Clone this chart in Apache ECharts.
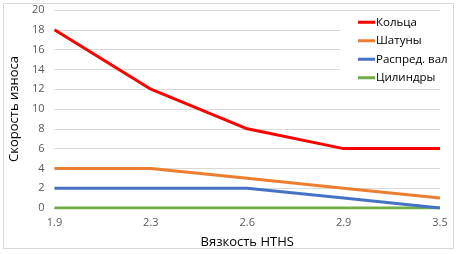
<!DOCTYPE html>
<html><head><meta charset="utf-8">
<script src="https://cdn.jsdelivr.net/npm/echarts@6/dist/echarts.min.js"></script>
<style>html,body{margin:0;padding:0;background:#fff}#c{width:457px;height:254px}</style>
</head><body><div id="c"></div>
<script>
const categories = ['1.9', '2.3', '2.6', '2.9', '3.5'];
const seriesNames = ['Кольца', 'Шатуны', 'Распред. вал', 'Цилиндры'];
const koltsa = [18, 12, 8, 6, 6];
const shatuny = [4, 4, 3, 2, 1];
const raspredVal = [2, 2, 2, 1, 0];
const tsilindry = [0, 0, 0, 0, 0];
const colors = ['#ff0000', '#ed7d31', '#4472c4', '#70ad47'];
const FONT = 'Open Sans';

const chart = echarts.init(document.getElementById('c'));
const dataSets = [koltsa, shatuny, raspredVal, tsilindry];
chart.setOption({
  animation: false,
  textStyle: { fontFamily: FONT },
  graphic: [{
    type: 'rect', shape: { x: 3.5, y: 3.5, width: 450, height: 245 },
    style: { fill: 'none', stroke: '#d9d9d9', lineWidth: 1 }, silent: true, z: -1
  }],
  grid: { left: 44, right: 17, top: 10, bottom: 38 },
  legend: {
    orient: 'vertical', left: 340, top: 13,
    padding: [2, 2, 2, 18],
    backgroundColor: '#fff',
    itemWidth: 17, itemHeight: 3, itemGap: 4,
    icon: 'rect',
    textStyle: { fontSize: 11.5, color: '#000', fontFamily: FONT, lineHeight: 14.5, padding: [0, 0, 0, -4] },
    data: seriesNames
  },
  xAxis: {
    type: 'category', data: categories, boundaryGap: false,
    name: 'Вязкость HTHS', nameLocation: 'middle', nameGap: 28,
    nameTextStyle: { fontSize: 13, color: '#000', fontFamily: FONT },
    axisLine: { show: true, lineStyle: { color: '#d9d9d9' } },
    axisTick: { show: false },
    axisLabel: { fontSize: 11, color: '#595959', margin: 9, fontFamily: FONT }
  },
  yAxis: {
    type: 'value', min: 0, max: 20, interval: 2,
    name: 'Скорость износа', nameLocation: 'middle', nameGap: 27, nameRotate: 90,
    nameTextStyle: { fontSize: 13, color: '#000', fontFamily: FONT },
    axisLine: { show: false }, axisTick: { show: false },
    axisLabel: { fontSize: 11, color: '#595959', margin: 10, fontFamily: FONT },
    splitLine: { lineStyle: { color: '#d9d9d9' } }
  },
  series: seriesNames.map((n, i) => ({
    name: n, type: 'line', data: dataSets[i], showSymbol: false, symbol: 'none',
    lineStyle: { width: 3, color: colors[i] }, itemStyle: { color: colors[i] }, z: 10 - i
  }))
});
</script></body></html>
